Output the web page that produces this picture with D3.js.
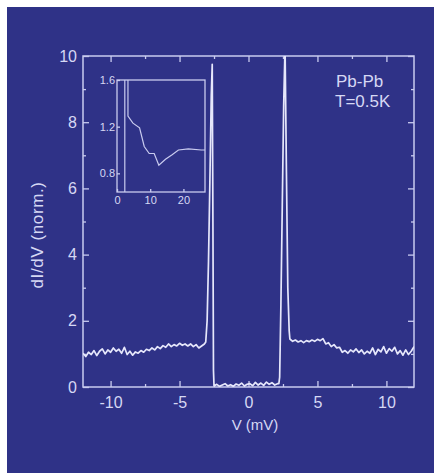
<!DOCTYPE html>
<html><head><meta charset="utf-8">
<script src="https://cdn.jsdelivr.net/npm/d3@7"></script>
<style>body{margin:0;background:#fff}svg{display:block}</style>
</head><body>
<svg id="c" width="434" height="473"></svg>
<script>
// ---- data ----
const voltage = [
 -12.0,-11.8,-11.6,-11.4,-11.2,-11.0,-10.8,-10.6,-10.4,-10.2,-10.0,-9.8,-9.6,-9.4,-9.2,-9.0,-8.8,-8.6,-8.4,-8.2,
 -8.0,-7.8,-7.6,-7.4,-7.2,-7.0,-6.8,-6.6,-6.4,-6.2,-6.0,-5.8,-5.6,-5.4,-5.2,-5.0,-4.8,-4.6,-4.4,-4.2,
 -4.0,-3.8,-3.6,-3.4,-3.2,-3.1,-3.0,-2.9,-2.8,-2.7,-2.63,-2.58,-2.54,-2.5,
 -2.3,-2.1,-1.9,-1.7,-1.5,-1.3,-1.1,-0.9,-0.7,-0.5,-0.3,-0.1,0.1,0.3,0.5,0.7,0.9,1.1,1.3,1.5,1.7,1.9,2.1,2.2,
 2.26,2.35,2.45,2.55,2.65,2.75,2.85,2.95,
 3.0,3.2,3.4,3.6,3.8,4.0,4.2,4.4,4.6,4.8,5.0,5.2,5.4,5.6,5.8,6.0,6.2,6.4,6.6,6.8,
 7.0,7.2,7.4,7.6,7.8,8.0,8.2,8.4,8.6,8.8,9.0,9.2,9.4,9.6,9.8,10.0,10.2,10.4,10.6,10.8,
 11.0,11.2,11.4,11.6,11.8,12.0];
const conductance = [
 1.02,0.92,1.05,0.98,1.10,0.95,1.08,1.15,1.00,1.12,1.05,1.18,1.08,1.14,1.02,1.20,0.98,1.08,0.96,1.06,
 1.02,1.10,1.05,1.14,1.10,1.18,1.12,1.22,1.16,1.25,1.20,1.30,1.22,1.28,1.24,1.32,1.26,1.30,1.24,1.30,
 1.22,1.28,1.18,1.24,1.30,1.36,2.0,3.8,6.2,8.8,9.75,5.0,0.5,0.03,
 0.08,0.02,0.06,0.10,0.03,0.07,0.02,0.09,0.05,0.12,0.03,0.08,0.10,0.04,0.14,0.06,0.12,0.05,0.15,0.08,0.13,0.06,0.10,0.10,
 0.3,2.5,5.5,8.5,10.3,6.5,3.0,1.7,
 1.45,1.38,1.42,1.36,1.40,1.34,1.40,1.37,1.42,1.38,1.44,1.40,1.46,1.30,1.34,1.22,1.28,1.18,1.20,1.05,
 1.10,1.02,1.12,1.06,1.15,1.04,1.12,1.00,1.08,1.02,1.18,0.98,1.14,1.06,1.22,1.02,1.16,1.08,1.20,1.00,
 1.10,0.96,1.12,0.98,1.08,1.22];
const xTicks = [-10,-5,0,5,10];
const xMinor = [-7.5,-2.5,2.5,7.5];
const yTicks = [0,2,4,6,8,10];
const yMinor = [1,3,5,7,9];

const insetX = [2.35,2.35,3.3,3.3,4.8,6.8,8.2,9.7,11.2,12.6,14.6,16.6,18.5,21.5,25.4,26.5];
const insetY = [0.64,1.7,1.7,1.29,1.23,1.19,1.03,0.97,0.97,0.87,0.92,0.96,1.00,1.01,1.00,1.00];
const insetXTicks = [0,10,20];
const insetYTicks = [0.8,1.2,1.6];

const labels = {x:"V (mV)", y:"dI/dV (norm.)", note1:"Pb-Pb", note2:"T=0.5K"};

// ---- drawing ----
const BG = "#2f3287", AX = "#c9cbef", TX = "#d6d8f4", LN = "#e6e7fb";
const FONT = "'Liberation Sans', Arial, sans-serif";
const svg = d3.select("#c");
svg.append("rect").attr("x",7).attr("y",7).attr("width",427).attr("height",466).attr("fill",BG);

const m = {l:83, r:414, t:56, b:387};
const x = d3.scaleLinear().domain([-12,12]).range([m.l,m.r]);
const y = d3.scaleLinear().domain([0,10]).range([m.b,m.t]);

svg.append("defs").append("clipPath").attr("id","mainclip")
  .append("rect").attr("x",m.l).attr("y",m.t).attr("width",m.r-m.l).attr("height",m.b-m.t);

function styleAxis(g, size){
  g.select(".domain").remove();
  g.selectAll(".tick line").attr("stroke",AX).attr("stroke-width",1.3);
  g.selectAll(".tick text").attr("fill",TX).attr("font-family",FONT).attr("font-size",size);
}
// major axes with labels
svg.append("g").attr("transform",`translate(0,${m.b})`)
  .call(d3.axisBottom(x).tickValues(xTicks).tickSize(-6).tickPadding(10).tickFormat(d=>d<0?"-"+Math.abs(d):d))
  .call(g=>styleAxis(g,16));
svg.append("g").attr("transform",`translate(${m.l},0)`)
  .call(d3.axisLeft(y).tickValues(yTicks).tickSize(-6).tickPadding(6))
  .call(g=>styleAxis(g,16));
// opposite sides ticks
svg.append("g").attr("transform",`translate(0,${m.t})`)
  .call(d3.axisTop(x).tickValues(xTicks).tickSize(-6).tickFormat(""))
  .call(g=>styleAxis(g,15));
svg.append("g").attr("transform",`translate(${m.r},0)`)
  .call(d3.axisRight(y).tickValues(yTicks).tickSize(-6).tickFormat(""))
  .call(g=>styleAxis(g,15));
// minor ticks
[[d3.axisBottom(x).tickValues(xMinor),`translate(0,${m.b})`],
 [d3.axisTop(x).tickValues(xMinor),`translate(0,${m.t})`],
 [d3.axisLeft(y).tickValues(yMinor),`translate(${m.l},0)`],
 [d3.axisRight(y).tickValues(yMinor),`translate(${m.r},0)`]].forEach(([ax,tr])=>{
  svg.append("g").attr("transform",tr).call(ax.tickSize(-3).tickFormat("")).call(g=>styleAxis(g,10));
});

// frame
svg.append("rect").attr("x",m.l).attr("y",m.t).attr("width",m.r-m.l).attr("height",m.b-m.t)
  .attr("fill","none").attr("stroke",AX).attr("stroke-width",1.5);

// main curve
const pts = voltage.map((v,i)=>[v,conductance[i]]);
svg.append("path").datum(pts).attr("clip-path","url(#mainclip)")
  .attr("d",d3.line().x(d=>x(d[0])).y(d=>y(d[1])))
  .attr("fill","none").attr("stroke",LN).attr("stroke-width",1.7).attr("stroke-linejoin","round");

// axis titles
svg.append("text").attr("x",255).attr("y",430).attr("text-anchor","middle")
  .attr("fill",TX).attr("font-family",FONT).attr("font-size",15).text(labels.x);
svg.append("text").attr("transform","translate(43,235) rotate(-90)").attr("text-anchor","middle")
  .attr("fill",TX).attr("font-family",FONT).attr("font-size",17).attr("letter-spacing",0.6).text(labels.y);

// annotations
svg.append("text").attr("x",336).attr("y",87).attr("fill",TX).attr("font-family",FONT).attr("font-size",17).text(labels.note1);
svg.append("text").attr("x",335).attr("y",107).attr("fill",TX).attr("font-family",FONT).attr("font-size",17).text(labels.note2);

// inset
const im = {l:117, r:205, t:80, b:192};
const ix = d3.scaleLinear().domain([0,26.5]).range([im.l,im.r]);
const iy = d3.scaleLinear().domain([0.64,1.6]).range([im.b,im.t]);
svg.select("defs").append("clipPath").attr("id","insclip")
  .append("rect").attr("x",im.l).attr("y",im.t).attr("width",im.r-im.l).attr("height",im.b-im.t);
svg.append("rect").attr("x",im.l).attr("y",im.t).attr("width",im.r-im.l).attr("height",im.b-im.t)
  .attr("fill",BG).attr("stroke",AX).attr("stroke-width",1.3);
svg.append("g").attr("transform",`translate(0,${im.b})`)
  .call(d3.axisBottom(ix).tickValues(insetXTicks).tickSize(-3).tickPadding(4))
  .call(g=>styleAxis(g,11));
svg.append("g").attr("transform",`translate(${im.l},0)`)
  .call(d3.axisLeft(iy).tickValues(insetYTicks).tickSize(-3).tickPadding(2).tickFormat(d3.format(".1f")))
  .call(g=>styleAxis(g,11));
const ipts = insetX.map((v,i)=>[v,insetY[i]]);
svg.append("path").datum(ipts).attr("clip-path","url(#insclip)")
  .attr("d",d3.line().x(d=>ix(d[0])).y(d=>iy(d[1])))
  .attr("fill","none").attr("stroke",AX).attr("stroke-width",1.2);
</script>
</body></html>
